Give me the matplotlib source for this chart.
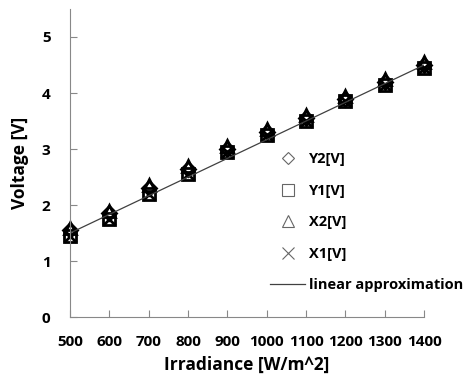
import matplotlib
matplotlib.use("Agg")
import matplotlib.pyplot as plt
from matplotlib.lines import Line2D

plt.rcParams['font.family'] = ['Open Sans', 'DejaVu Sans']

# Daten
irradiance = [500, 600, 700, 800, 900, 1000, 1100, 1200, 1300, 1400]
y2 = [1.55, 1.85, 2.30, 2.65, 3.00, 3.30, 3.55, 3.90, 4.20, 4.50]
y1 = [1.45, 1.75, 2.20, 2.55, 2.95, 3.25, 3.50, 3.85, 4.15, 4.45]
x2 = [1.60, 1.90, 2.35, 2.70, 3.05, 3.35, 3.60, 3.95, 4.25, 4.55]
x1 = [1.45, 1.75, 2.20, 2.55, 2.95, 3.25, 3.50, 3.85, 4.15, 4.45]
linear_x = [500, 1400]
linear_y = [1.50, 4.50]

fig = plt.figure(figsize=(4.65, 3.74), dpi=100)
ax = fig.add_axes([0.1505, 0.152, 0.7615, 0.824])

series = [(y2, 'D', 7), (y1, 's', 9), (x2, '^', 9), (x1, 'x', 8)]
for vals, m, s in series:
    ax.plot(irradiance, vals, linestyle='none', marker=m, markersize=s,
            markerfacecolor='none', markeredgecolor='black', markeredgewidth=2,
            clip_on=False)
ax.plot(linear_x, linear_y, color='#404040', linewidth=0.9)

ax.set_xlim(500, 1400)
ax.set_ylim(0, 5.5)
ax.set_xticks(irradiance)
ax.set_yticks([0, 1, 2, 3, 4, 5])
ax.spines['top'].set_visible(False)
ax.spines['right'].set_visible(False)
for s in ['left', 'bottom']:
    ax.spines[s].set_color('#888888')
ax.tick_params(direction='in', length=5, color='#888888', labelsize=11)
ax.tick_params(axis='x', pad=13)
ax.tick_params(axis='y', pad=14)
for lab in ax.get_xticklabels() + ax.get_yticklabels():
    lab.set_fontweight('bold')
ax.set_xlabel('Irradiance [W/m^2]', fontsize=12.5, fontweight='bold', labelpad=5)
ax.set_ylabel('Voltage [V]', fontsize=12.5, fontweight='bold', labelpad=9)

handles = [
    Line2D([], [], linestyle='none', marker='D', markersize=6, markerfacecolor='none', markeredgecolor='#666666', markeredgewidth=0.8),
    Line2D([], [], linestyle='none', marker='s', markersize=8, markerfacecolor='none', markeredgecolor='#666666', markeredgewidth=0.8),
    Line2D([], [], linestyle='none', marker='^', markersize=8, markerfacecolor='none', markeredgecolor='#666666', markeredgewidth=0.8),
    Line2D([], [], linestyle='none', marker='x', markersize=8, markeredgecolor='#666666', markeredgewidth=0.8),
    Line2D([], [], color='#404040', linewidth=0.9),
]
labels = ['Y2[V]', 'Y1[V]', 'X2[V]', 'X1[V]', 'linear approximation']
leg = ax.legend(handles, labels, loc='upper left', bbox_to_anchor=(0.565, 0.535),
                frameon=False, prop={'weight': 'bold', 'size': 10.5},
                handlelength=2.4, handletextpad=0.3, labelspacing=1.2,
                borderpad=0, borderaxespad=0)

fig.savefig('out.png', dpi=100)
